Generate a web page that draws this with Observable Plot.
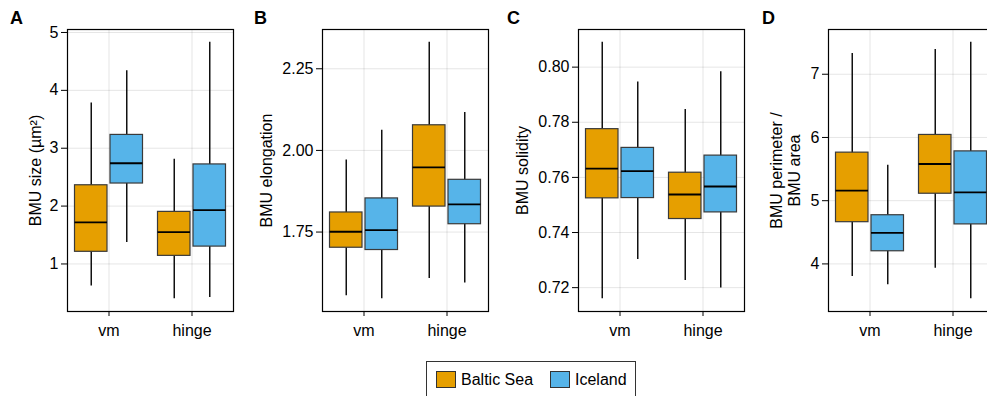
<!DOCTYPE html>
<html>
<head>
<meta charset="utf-8">
<script src="https://cdn.jsdelivr.net/npm/d3@7"></script>
<script src="https://cdn.jsdelivr.net/npm/@observablehq/plot@0.6"></script>
<style>
  html, body { margin: 0; padding: 0; background: #fff; }
  #root { position: relative; width: 987px; height: 396px; overflow: hidden; background: #fff;
          font-family: "Liberation Sans", Arial, Helvetica, sans-serif; color: #000; }
  .panel { position: absolute; top: 0; }
  .letter { position: absolute; top: 9px; font-weight: bold; font-size: 18px; line-height: 18px; }
  #legend { position: absolute; left: 426px; top: 361px; width: 210px; height: 40px;
            border: 1px solid #333; box-sizing: border-box; }
  .sw { position: absolute; top: 9px; width: 20px; height: 17px; box-sizing: border-box; border: 1px solid #333; }
  .lt { position: absolute; top: 8px; font-size: 16px; line-height: 19px; }
</style>
</head>
<body>
<div id="root"></div>
<script>
// ---------- data ----------
const categories = ["vm", "hinge"];
const regions = ["Baltic Sea", "Iceland"];
const regionColors = ["#E69F00", "#56B4E9"];
const panelLetters = ["A", "B", "C", "D"];

// each row: [whisker low, Q1, median, Q3, whisker high] for vm, hinge
const sizeBaltic   = [[0.62, 1.21, 1.72, 2.36, 3.78], [0.40, 1.14, 1.55, 1.90, 2.81]];
const sizeIceland  = [[1.37, 2.39, 2.74, 3.23, 4.34], [0.42, 1.30, 1.93, 2.72, 4.83]];
const elongBaltic  = [[1.555, 1.702, 1.751, 1.810, 1.971], [1.608, 1.828, 1.948, 2.077, 2.331]];
const elongIceland = [[1.546, 1.695, 1.756, 1.853, 2.062], [1.594, 1.774, 1.835, 1.910, 2.116]];
const solidBaltic  = [[0.716, 0.7524, 0.7632, 0.7775, 0.809], [0.7226, 0.7449, 0.7538, 0.7617, 0.7846]];
const solidIceland = [[0.7302, 0.7525, 0.7623, 0.7707, 0.7946], [0.7199, 0.7473, 0.7567, 0.7679, 0.7983]];
const perimBaltic  = [[3.80, 4.66, 5.16, 5.76, 7.33], [3.93, 5.11, 5.58, 6.04, 7.39]];
const perimIceland = [[3.67, 4.20, 4.49, 4.77, 5.56], [3.45, 4.625, 5.13, 5.78, 7.505]];

const sizeTicks  = [1, 2, 3, 4, 5];
const elongTicks = [1.75, 2.00, 2.25];
const solidTicks = [0.72, 0.74, 0.76, 0.78, 0.80];
const perimTicks = [4, 5, 6, 7];

const yLabels = ["BMU size (µm²)", "BMU elongation", "BMU solidity", "BMU perimeter /\nBMU area"];

// ---------- layout ----------
const FONT = '"Liberation Sans", Arial, Helvetica, sans-serif';
const panels = [
  {baltic: sizeBaltic,  iceland: sizeIceland,  ticks: sizeTicks,  fmt: d => String(d), left: 0,   ml: 67, lab: 32},
  {baltic: elongBaltic, iceland: elongIceland, ticks: elongTicks, fmt: d3.format(".2f"), left: 252, ml: 70, lab: 56},
  {baltic: solidBaltic, iceland: solidIceland, ticks: solidTicks, fmt: d3.format(".2f"), left: 508, ml: 70, lab: 56},
  {baltic: perimBaltic, iceland: perimIceland, ticks: perimTicks, fmt: d => String(d), left: 758, ml: 70, lab: 43}
];

const root = document.getElementById("root");
const insets = [{insetLeft: 7.5, insetRight: 43}, {insetLeft: 43, insetRight: 7.5}];
const whiskerDx = [-17.75, 17.75];

panels.forEach((p, i) => {
  const rows = [];
  categories.forEach((c, j) => {
    [p.baltic, p.iceland].forEach((src, k) => {
      const [low, q1, median, q3, high] = src[j];
      rows.push({category: c, region: regions[k], low, q1, median, q3, high});
    });
  });
  const lo = d3.min(rows, d => d.low), hi = d3.max(rows, d => d.high);
  const pad = (hi - lo) * 0.05;

  const marks = [
    Plot.gridY(p.ticks, {stroke: "#000", strokeOpacity: 0.1}),
    Plot.gridX(categories, {stroke: "#000", strokeOpacity: 0.1})
  ];
  regions.forEach((r, k) => {
    const sub = rows.filter(d => d.region === r);
    marks.push(
      Plot.ruleX(sub, {x: "category", y1: "low", y2: "high", dx: whiskerDx[k], stroke: "#111", strokeWidth: 1.5}),
      Plot.barY(sub, {x: "category", y1: "q1", y2: "q3", fill: "region", stroke: "#3a3a3a", strokeWidth: 1.2, ...insets[k]}),
      Plot.tickY(sub, {x: "category", y: "median", stroke: "#000", strokeWidth: 1.8, ...insets[k]})
    );
  });
  marks.push(
    Plot.frame({stroke: "#000", strokeWidth: 1.2}),
    Plot.axisY(p.ticks, {tickSize: 6, tickPadding: 3, tickFormat: p.fmt, label: null, fontSize: 16}),
    Plot.axisX({tickSize: 5, tickPadding: 8, label: null, fontSize: 16}),
    Plot.text([yLabels[i]], {frameAnchor: "left", rotate: -90, dx: -p.lab, lineAnchor: "middle",
                             textAnchor: "middle", fontSize: 16, lineHeight: 1.12, fill: "#000"})
  );

  const chart = Plot.plot({
    width: p.ml + 166 + 6,
    height: 351,
    marginLeft: p.ml, marginRight: 6, marginTop: 29, marginBottom: 40,
    style: {fontFamily: FONT, fontSize: "16px", color: "#000", background: "transparent", overflow: "visible"},
    x: {type: "band", domain: categories, padding: 0, axis: null},
    y: {domain: [lo - pad, hi + pad], axis: null},
    color: {domain: regions, range: regionColors},
    marks
  });
  chart.classList.add("panel");
  chart.style.left = p.left + "px";
  chart.style.maxWidth = "none";
  root.appendChild(chart);
});

// panel letters
const letterX = [10, 254, 507, 762];
panelLetters.forEach((t, i) => {
  const d = document.createElement("div");
  d.className = "letter";
  d.style.left = letterX[i] + "px";
  d.textContent = t;
  root.appendChild(d);
});

// legend
const legend = document.createElement("div");
legend.id = "legend";
const swX = [9, 123], txX = [34, 148];
regions.forEach((r, k) => {
  const s = document.createElement("div");
  s.className = "sw";
  s.style.left = swX[k] + "px";
  s.style.background = regionColors[k];
  legend.appendChild(s);
  const t = document.createElement("div");
  t.className = "lt";
  t.style.left = txX[k] + "px";
  t.textContent = r;
  legend.appendChild(t);
});
root.appendChild(legend);
</script>
</body>
</html>
